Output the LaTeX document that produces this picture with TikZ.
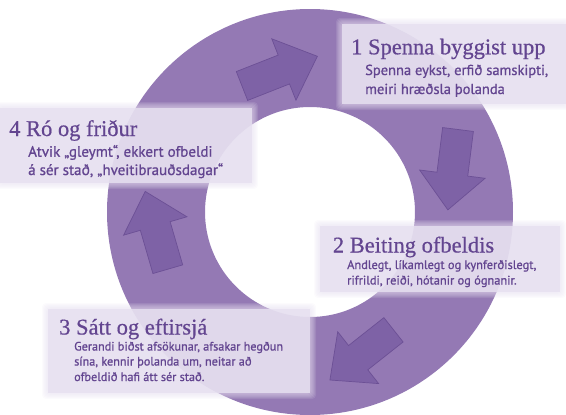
\documentclass[tikz,border=0pt]{standalone}
\usepackage{fontspec}
\setmainfont{Liberation Serif}
\newfontfamily\titlefont[FakeBold=0.6]{Liberation Serif}
\newfontfamily\bodyfont[FakeBold=0.9]{PT Sans}
\definecolor{ringcol}{HTML}{9479B4}
\definecolor{arrowfill}{HTML}{7E62A6}
\definecolor{arrowline}{HTML}{6C5095}
\definecolor{boxcol}{HTML}{E6E0F0}
\definecolor{textcol}{HTML}{634590}
\tikzset{
  cyclearrow/.style={fill=arrowfill, draw=arrowline, line width=0.7pt, line join=miter},
  titletext/.style={anchor=base west, inner sep=0pt, text=textcol, font=\titlefont\fontsize{22.5}{26}\selectfont},
  bodyone/.style={anchor=base west, inner sep=0pt, text=textcol, font=\bodyfont\fontsize{14.5}{16}\selectfont},
  bodytwo/.style={anchor=base west, inner sep=0pt, text=textcol, font=\bodyfont\fontsize{12.4}{14}\selectfont},
  bodythree/.style={anchor=base west, inner sep=0pt, text=textcol, font=\bodyfont\fontsize{12.2}{14}\selectfont},
  bodyfour/.style={anchor=base west, inner sep=0pt, text=textcol, font=\bodyfont\fontsize{15}{17}\selectfont},
}
\newcommand\softbox[4]{%
  \foreach \k in {6,5,...,1}{\fill[boxcol, opacity=0.13, rounded corners=4pt] ({#1-\k},{#2-\k}) rectangle ({#3+\k},{#4+\k});}
  \fill[boxcol, opacity=0.84] (#1,#2) rectangle (#3,#4);}
\newcommand\drawcyclearrow[3]{\draw[cyclearrow, shift={(#1,#2)}, rotate=#3] (0,-15.5) -- (45,-15.5) -- (45,-33) -- (81,0) -- (45,33) -- (45,15.5) -- (0,15.5) -- cycle;}
\begin{document}
\begin{tikzpicture}[x=1pt,y=-1pt]
\useasboundingbox (0,0) rectangle (566,415);
% ring
\fill[ringcol, even odd rule] (310,212) circle[radius=203] (310,212) circle[radius=105];
% arrows
\drawcyclearrow{242}{86}{21.5}
\drawcyclearrow{458}{129.5}{-97.2}
\drawcyclearrow{393.5}{329.8}{218.3}
\drawcyclearrow{167.8}{269.2}{106.2}
% label boxes
\softbox{342}{24}{566}{104}
\softbox{320}{226}{560}{292}
\softbox{48}{309}{310}{393}
\softbox{0}{108}{252}{183}
% texts
\node[titletext] (t1) at (351,54.3) {1 Spenna byggist upp};
\node[bodyone] (b1a) at (365,75) {Spenna eykst, erfið samskipti,};
\node[bodyone] (b1b) at (365,94) {meiri hræðsla þolanda};
\node[titletext] (t2) at (332.7,252.5) {2 Beiting ofbeldis};
\node[bodytwo] (b2a) at (347,269) {Andlegt, líkamlegt og kynferðislegt,};
\node[bodytwo] (b2b) at (347,284.5) {rifrildi, reiði, hótanir og ógnanir.};
\node[titletext] (t3) at (59,334.5) {3 Sátt og eftirsjá};
\node[bodythree] (b3a) at (74,350.5) {Gerandi biðst afsökunar, afsakar hegðun};
\node[bodythree] (b3b) at (74,365.5) {sína, kennir þolanda um, neitar að};
\node[bodythree] (b3c) at (74,381) {ofbeldið hafi átt sér stað.};
\node[titletext] (t4) at (9,136) {4 Ró og friður};
\node[bodyfour] (b4a) at (28,156.7) {Atvik „gleymt“, ekkert ofbeldi};
\node[bodyfour] (b4b) at (28,175) {á sér stað, „hveitibrauðsdagar“};
\end{tikzpicture}
\end{document}
